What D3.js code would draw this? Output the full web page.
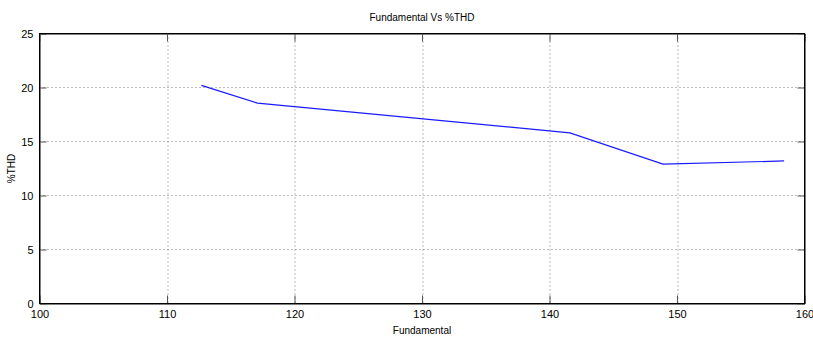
<!DOCTYPE html>
<html>
<head>
<meta charset="utf-8">
<script src="https://cdn.jsdelivr.net/npm/d3@7"></script>
<style>
    body { margin: 0; background: #fff; }
    svg text { font-family: "Liberation Sans", Arial, sans-serif; font-size: 10px; fill: #000; }
</style>
</head>
<body>
<div id="chart"></div>
<script>
/*global d3 */
"use strict";

// chart data
var fundamental = [112.7, 117.1, 141.6, 148.9, 158.4],
    thd = [20.2, 18.55, 15.8, 12.9, 13.2],
    xTicks = [100, 110, 120, 130, 140, 150, 160],
    yTicks = [0, 5, 10, 15, 20, 25];

var width = 813, height = 342,
    m = {left: 39.5, right: 8.5, top: 33.5, bottom: 38.5},
    pw = width - m.left - m.right,
    ph = height - m.top - m.bottom;

var svg = d3.select("#chart").append("svg")
    .attr("width", width).attr("height", height);

var x = d3.scaleLinear().domain([100, 160]).range([0, pw]),
    y = d3.scaleLinear().domain([0, 25]).range([ph, 0]);

var g = svg.append("g")
    .attr("transform", "translate(" + m.left + "," + m.top + ")");

// dotted grid
g.selectAll("line.gx").data(xTicks.slice(1, -1)).enter().append("line")
    .attr("class", "gx")
    .attr("x1", function (d) { return Math.round(x(d)) + 0.5; })
    .attr("x2", function (d) { return Math.round(x(d)) + 0.5; })
    .attr("y1", 0).attr("y2", ph)
    .attr("stroke", "#777").attr("stroke-dasharray", "1,3");
g.selectAll("line.gy").data(yTicks.slice(1, -1)).enter().append("line")
    .attr("class", "gy")
    .attr("y1", function (d) { return Math.round(y(d)); })
    .attr("y2", function (d) { return Math.round(y(d)); })
    .attr("x1", 0).attr("x2", pw)
    .attr("stroke", "#777").attr("stroke-dasharray", "1,3");

// axes with inward ticks, MATLAB style box
var xAxis = d3.axisBottom(x).tickValues(xTicks).tickSizeInner(-8).tickSizeOuter(0).tickPadding(11),
    yAxis = d3.axisLeft(y).tickValues(yTicks).tickSizeInner(-7).tickSizeOuter(0).tickPadding(11);

var gx = g.append("g").attr("transform", "translate(0," + ph + ")").call(xAxis);
var gy = g.append("g").call(yAxis);
g.append("g").call(d3.axisTop(x).tickValues(xTicks).tickSizeInner(-8).tickSizeOuter(0).tickFormat(""));
g.append("g").attr("transform", "translate(" + pw + ",0)")
    .call(d3.axisRight(y).tickValues(yTicks).tickSizeInner(-7).tickSizeOuter(0).tickFormat(""));

g.selectAll(".domain").attr("stroke", "#000");
g.selectAll(".tick line").attr("stroke", "#555");
gx.selectAll("text").attr("dy", "0.35em").style("font-size", "11px");
gy.selectAll("text").attr("dx", "5px").style("font-size", "11px");

g.append("rect").attr("width", pw).attr("height", ph)
    .attr("fill", "none").attr("stroke", "#000");

// data line
var line = d3.line()
    .x(function (d) { return x(d[0]); })
    .y(function (d) { return y(d[1]); });

g.append("path")
    .datum(d3.zip(fundamental, thd))
    .attr("d", line)
    .attr("fill", "none")
    .attr("stroke", "#1a1aff")
    .attr("stroke-width", 1.2);

// labels
svg.append("text").attr("x", m.left + pw / 2).attr("y", 21)
    .attr("text-anchor", "middle").text("Fundamental Vs %THD");
svg.append("text").attr("x", m.left + pw / 2).attr("y", 334)
    .attr("text-anchor", "middle").text("Fundamental");
svg.append("text")
    .attr("transform", "translate(15," + (m.top + ph / 2) + ") rotate(-90)")
    .attr("text-anchor", "middle").text("%THD");
</script>
</body>
</html>
